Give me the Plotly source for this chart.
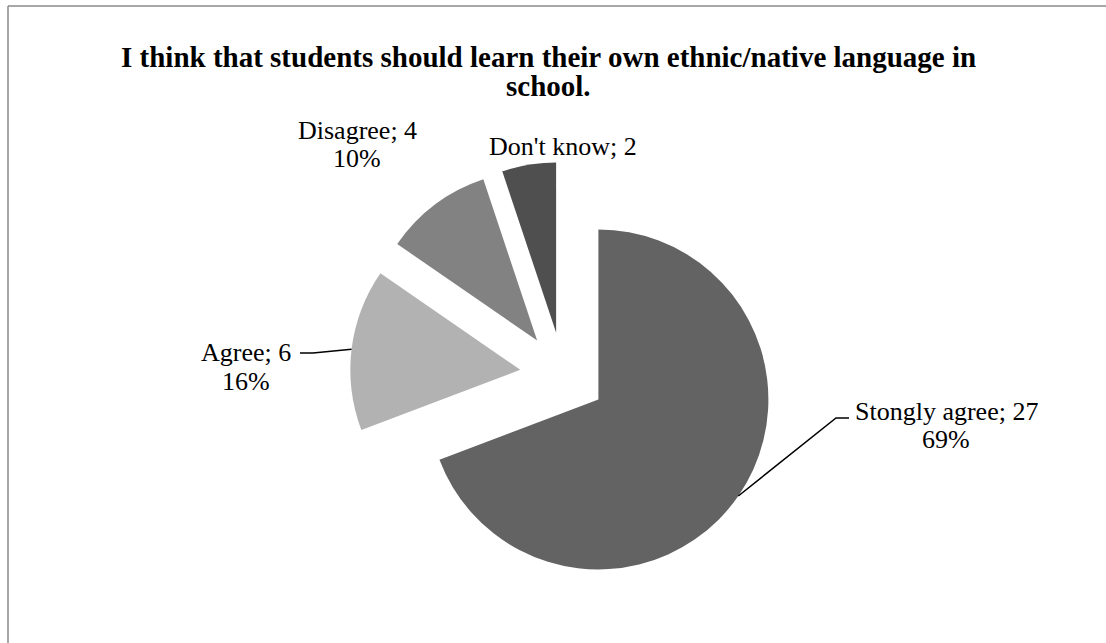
import math
import plotly.graph_objects as go

# Survey responses
categories = ["Stongly agree", "Agree", "Disagree", "Don't know"]
counts = [27, 6, 4, 2]
percent_labels = ["69%", "16%", "10%", ""]
slice_colors = ["#636363", "#b2b2b2", "#828282", "#4f4f4f"]

title_lines = [
    "I think that students should learn their own ethnic/native language in",
    "school.",
]

W, H = 1106, 643
FONT = "Liberation Serif, Times New Roman, serif"

# pie geometry in pixels (centre, radius, explosion as a fraction of radius)
cx_px, cy_px = 563, 375
radius_px = 170
explode = 0.253
half = radius_px * (1 + explode)

dom_x = [(cx_px - half) / W, (cx_px + half) / W]
dom_y = [1 - (cy_px + half) / H, 1 - (cy_px - half) / H]


def px(x):
    return x / W


def py(y):
    return 1 - y / H


fig = go.Figure(
    go.Pie(
        labels=categories,
        values=counts,
        sort=False,
        direction="clockwise",
        rotation=0,
        pull=explode,
        marker=dict(colors=slice_colors, line=dict(width=0)),
        textinfo="none",
        hoverinfo="label+value+percent",
        showlegend=False,
        domain=dict(x=dom_x, y=dom_y),
    )
)

# label placement: (centre x, first-line y, second-line y)
label_pos = {
    "Stongly agree": (946, 411, 440),
    "Agree": (246, 352, 381),
    "Disagree": (357, 130, 159),
    "Don't know": (563, 146, None),
}

annotations = []
for line, y in zip(title_lines, [57, 86]):
    annotations.append(dict(
        text="<b>" + line + "</b>", x=px(548), y=py(y), xref="paper", yref="paper",
        xanchor="center", yanchor="middle", showarrow=False,
        font=dict(family=FONT, size=29, color="#000000"),
    ))

for cat, n, pct in zip(categories, counts, percent_labels):
    x, y1, y2 = label_pos[cat]
    annotations.append(dict(
        text=f"{cat}; {n}", x=px(x), y=py(y1), xref="paper", yref="paper",
        xanchor="center", yanchor="middle", showarrow=False,
        font=dict(family=FONT, size=26, color="#000000"),
    ))
    if pct and y2 is not None:
        annotations.append(dict(
            text=pct, x=px(x), y=py(y2), xref="paper", yref="paper",
            xanchor="center", yanchor="middle", showarrow=False,
            font=dict(family=FONT, size=26, color="#000000"),
        ))

# leader lines run from the middle of a slice's outer arc to its label
total = sum(counts)
arc_mid = {}
cum = 0
for cat, n in zip(categories, counts):
    a0 = cum / total * 360
    a1 = (cum + n) / total * 360
    mid = math.radians((a0 + a1) / 2)
    dx, dy = math.sin(mid), -math.cos(mid)
    ax = cx_px + explode * radius_px * dx + radius_px * dx
    ay = cy_px + explode * radius_px * dy + radius_px * dy
    arc_mid[cat] = (ax, ay)
    cum += n

leaders = {
    "Stongly agree": [(836, 418), (849, 418)],
    "Agree": [(313, 353), (300, 353)],
}

shapes = []
for cat, pts in leaders.items():
    ax, ay = arc_mid[cat]
    path = f"M{px(ax)},{py(ay)}" + "".join(f" L{px(x)},{py(y)}" for x, y in pts)
    shapes.append(dict(type="path", path=path, xref="paper", yref="paper",
                       line=dict(color="#000000", width=1.5)))

# chart-area frame (top and left edges)
shapes.append(dict(type="line", xref="paper", yref="paper",
                   x0=px(8), y0=py(6), x1=px(1106), y1=py(6),
                   line=dict(color="#8a8a8a", width=1.5)))
shapes.append(dict(type="line", xref="paper", yref="paper",
                   x0=px(8), y0=py(6), x1=px(8), y1=py(643),
                   line=dict(color="#8a8a8a", width=1.5)))

fig.update_layout(
    width=W, height=H,
    margin=dict(l=0, r=0, t=0, b=0),
    paper_bgcolor="#ffffff",
    plot_bgcolor="#ffffff",
    annotations=annotations,
    shapes=shapes,
)

fig.write_html("out.html")
